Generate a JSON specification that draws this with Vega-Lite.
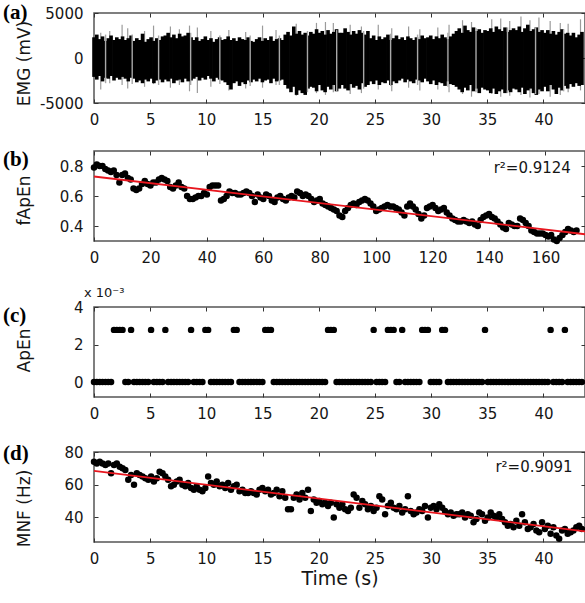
{
  "$schema": "https://vega.github.io/schema/vega-lite/v6.json",
  "padding": {"left": 2, "top": 1, "right": 0, "bottom": 2},
  "background": "white",
  "spacing": 20,
  "config": {
    "font": "DejaVu Sans",
    "view": {"stroke": "#555555", "strokeWidth": 1.5},
    "axis": {"domain": false, "grid": false, "labelFont": "DejaVu Sans", "labelFontSize": 15, "labelColor": "#161616", "tickColor": "#333333", "tickSize": -4, "tickWidth": 1, "titleFont": "DejaVu Sans", "titleFontSize": 17, "titleFontWeight": "normal", "titleColor": "#161616", "labelFlush": false, "labelOverlap": false},
    "axisBottom": {"labelPadding": 13},
    "axisLeft": {"labelPadding": 15}
  },
  "datasets": {
    "main": [
{"i":0,"t":0,"f":0.79,"a":0,"m":74,"hi":2300,"lo":-2100},
{"i":1,"t":0.25,"f":0.81,"a":0,"m":73,"hi":2600,"lo":-2400},
{"i":2,"t":0.51,"f":0.80,"a":0,"m":74,"hi":2100,"lo":-2000},
{"i":3,"t":0.76,"f":0.80,"a":0,"m":73,"hi":2400,"lo":-2600},
{"i":4,"t":1.02,"f":0.78,"a":0,"m":72,"hi":1900,"lo":-2200},
{"i":5,"t":1.27,"f":0.77,"a":0,"m":73,"hi":2200,"lo":-2300},
{"i":6,"t":1.52,"f":0.76,"a":0,"m":67,"hi":2500,"lo":-2000},
{"i":7,"t":1.78,"f":0.77,"a":0.00278,"m":72,"hi":2000,"lo":-2500},
{"i":8,"t":2.03,"f":0.74,"a":0.00278,"m":73,"hi":2300,"lo":-2200},
{"i":9,"t":2.29,"f":0.69,"a":0.00278,"m":71,"hi":2100,"lo":-2400},
{"i":10,"t":2.54,"f":0.74,"a":0.00278,"m":70,"hi":2400,"lo":-2100},
{"i":11,"t":2.79,"f":0.75,"a":0,"m":69,"hi":2000,"lo":-2300},
{"i":12,"t":3.05,"f":0.72,"a":0,"m":63,"hi":2200,"lo":-2600},
{"i":13,"t":3.30,"f":0.71,"a":0.00278,"m":66,"hi":2500,"lo":-2200},
{"i":14,"t":3.56,"f":0.65,"a":0,"m":60,"hi":1900,"lo":-2300},
{"i":15,"t":3.81,"f":0.64,"a":0,"m":67,"hi":2200,"lo":-2700},
{"i":16,"t":4.06,"f":0.65,"a":0,"m":66,"hi":2000,"lo":-2500},
{"i":17,"t":4.32,"f":0.68,"a":0,"m":65,"hi":2700,"lo":-2800},
{"i":18,"t":4.57,"f":0.70,"a":0,"m":64,"hi":1800,"lo":-2400},
{"i":19,"t":4.83,"f":0.68,"a":0,"m":63,"hi":2100,"lo":-2600},
{"i":20,"t":5.08,"f":0.67,"a":0.00278,"m":65,"hi":2300,"lo":-2300},
{"i":21,"t":5.33,"f":0.69,"a":0,"m":62,"hi":1900,"lo":-2800},
{"i":22,"t":5.59,"f":0.69,"a":0,"m":64,"hi":2200,"lo":-2500},
{"i":23,"t":5.84,"f":0.71,"a":0,"m":68,"hi":2000,"lo":-2400},
{"i":24,"t":6.10,"f":0.72,"a":0,"m":67,"hi":2400,"lo":-2700},
{"i":25,"t":6.35,"f":0.71,"a":0.00278,"m":65,"hi":2500,"lo":-2400},
{"i":26,"t":6.60,"f":0.70,"a":0,"m":63,"hi":2800,"lo":-2600},
{"i":27,"t":6.86,"f":0.66,"a":0,"m":59,"hi":2300,"lo":-2300},
{"i":28,"t":7.11,"f":0.65,"a":0,"m":60,"hi":2600,"lo":-2800},
{"i":29,"t":7.37,"f":0.67,"a":0,"m":62,"hi":2200,"lo":-2500},
{"i":30,"t":7.62,"f":0.69,"a":0,"m":63,"hi":2700,"lo":-2400},
{"i":31,"t":7.87,"f":0.66,"a":0,"m":60,"hi":2400,"lo":-2700},
{"i":32,"t":8.13,"f":0.65,"a":0,"m":59,"hi":2500,"lo":-2300},
{"i":33,"t":8.38,"f":0.60,"a":0,"m":61,"hi":2800,"lo":-2600},
{"i":34,"t":8.64,"f":0.58,"a":0.00278,"m":58,"hi":2300,"lo":-2500},
{"i":35,"t":8.89,"f":0.58,"a":0,"m":57,"hi":2000,"lo":-2300},
{"i":36,"t":9.14,"f":0.59,"a":0,"m":59,"hi":2300,"lo":-2100},
{"i":37,"t":9.40,"f":0.60,"a":0,"m":57,"hi":1900,"lo":-2500},
{"i":38,"t":9.65,"f":0.60,"a":0,"m":56,"hi":2100,"lo":-2200},
{"i":39,"t":9.91,"f":0.62,"a":0.00278,"m":58,"hi":2400,"lo":-2400},
{"i":40,"t":10.16,"f":0.61,"a":0.00278,"m":65,"hi":2000,"lo":-2000},
{"i":41,"t":10.41,"f":0.66,"a":0,"m":61,"hi":2200,"lo":-2300},
{"i":42,"t":10.67,"f":0.67,"a":0,"m":60,"hi":1800,"lo":-2600},
{"i":43,"t":10.92,"f":0.67,"a":0,"m":62,"hi":2100,"lo":-2200},
{"i":44,"t":11.18,"f":0.67,"a":0,"m":59,"hi":2300,"lo":-2400},
{"i":45,"t":11.43,"f":0.57,"a":0,"m":60,"hi":2000,"lo":-2500},
{"i":46,"t":11.68,"f":0.58,"a":0,"m":58,"hi":2100,"lo":-2700},
{"i":47,"t":11.94,"f":0.60,"a":0,"m":61,"hi":2400,"lo":-3000},
{"i":48,"t":12.19,"f":0.63,"a":0,"m":57,"hi":2000,"lo":-3500},
{"i":49,"t":12.45,"f":0.62,"a":0.00278,"m":59,"hi":2200,"lo":-2800},
{"i":50,"t":12.70,"f":0.62,"a":0.00278,"m":60,"hi":1900,"lo":-2600},
{"i":51,"t":12.95,"f":0.61,"a":0,"m":56,"hi":2300,"lo":-3100},
{"i":52,"t":13.21,"f":0.61,"a":0,"m":57,"hi":2100,"lo":-2700},
{"i":53,"t":13.46,"f":0.62,"a":0,"m":55,"hi":2000,"lo":-2900},
{"i":54,"t":13.72,"f":0.63,"a":0,"m":55,"hi":2300,"lo":-2500},
{"i":55,"t":13.97,"f":0.62,"a":0,"m":56,"hi":1900,"lo":-2700},
{"i":56,"t":14.22,"f":0.60,"a":0,"m":55,"hi":1800,"lo":-2400},
{"i":57,"t":14.48,"f":0.56,"a":0,"m":54,"hi":2100,"lo":-2600},
{"i":58,"t":14.73,"f":0.61,"a":0,"m":57,"hi":2300,"lo":-2300},
{"i":59,"t":14.99,"f":0.59,"a":0,"m":58,"hi":1900,"lo":-2700},
{"i":60,"t":15.24,"f":0.58,"a":0.00278,"m":56,"hi":2200,"lo":-2500},
{"i":61,"t":15.49,"f":0.61,"a":0.00278,"m":57,"hi":2000,"lo":-2400},
{"i":62,"t":15.75,"f":0.60,"a":0.00278,"m":54,"hi":2400,"lo":-2800},
{"i":63,"t":16.00,"f":0.57,"a":0,"m":55,"hi":1900,"lo":-2300},
{"i":64,"t":16.26,"f":0.56,"a":0,"m":57,"hi":2100,"lo":-2600},
{"i":65,"t":16.51,"f":0.59,"a":0,"m":53,"hi":2200,"lo":-2500},
{"i":66,"t":16.76,"f":0.60,"a":0,"m":56,"hi":2000,"lo":-2400},
{"i":67,"t":17.02,"f":0.58,"a":0,"m":52,"hi":2600,"lo":-3000},
{"i":68,"t":17.27,"f":0.57,"a":0,"m":45,"hi":2900,"lo":-3400},
{"i":69,"t":17.53,"f":0.59,"a":0,"m":45,"hi":2500,"lo":-3800},
{"i":70,"t":17.78,"f":0.60,"a":0,"m":52,"hi":3500,"lo":-3200},
{"i":71,"t":18.03,"f":0.59,"a":0,"m":54,"hi":2700,"lo":-4100},
{"i":72,"t":18.29,"f":0.63,"a":0,"m":51,"hi":3000,"lo":-3600},
{"i":73,"t":18.54,"f":0.62,"a":0,"m":55,"hi":2600,"lo":-3900},
{"i":74,"t":18.80,"f":0.60,"a":0,"m":52,"hi":2800,"lo":-4100},
{"i":75,"t":19.05,"f":0.61,"a":0,"m":57,"hi":2500,"lo":-3400},
{"i":76,"t":19.30,"f":0.60,"a":0,"m":44,"hi":2900,"lo":-3200},
{"i":77,"t":19.56,"f":0.58,"a":0,"m":51,"hi":2700,"lo":-3300},
{"i":78,"t":19.81,"f":0.56,"a":0,"m":49,"hi":3200,"lo":-3700},
{"i":79,"t":20.07,"f":0.57,"a":0,"m":50,"hi":2800,"lo":-3000},
{"i":80,"t":20.32,"f":0.58,"a":0,"m":48,"hi":3000,"lo":-3600},
{"i":81,"t":20.57,"f":0.55,"a":0,"m":49,"hi":2600,"lo":-3800},
{"i":82,"t":20.83,"f":0.54,"a":0.00278,"m":47,"hi":3100,"lo":-3200},
{"i":83,"t":21.08,"f":0.53,"a":0.00278,"m":49,"hi":2700,"lo":-3500},
{"i":84,"t":21.34,"f":0.52,"a":0.00278,"m":40,"hi":2900,"lo":-3000},
{"i":85,"t":21.59,"f":0.51,"a":0,"m":48,"hi":3200,"lo":-3700},
{"i":86,"t":21.84,"f":0.50,"a":0,"m":46,"hi":2800,"lo":-3400},
{"i":87,"t":22.10,"f":0.47,"a":0,"m":48,"hi":2800,"lo":-3000},
{"i":88,"t":22.35,"f":0.46,"a":0,"m":45,"hi":3300,"lo":-3400},
{"i":89,"t":22.61,"f":0.50,"a":0,"m":44,"hi":2900,"lo":-3600},
{"i":90,"t":22.86,"f":0.52,"a":0,"m":46,"hi":2600,"lo":-2900},
{"i":91,"t":23.11,"f":0.54,"a":0,"m":54,"hi":3000,"lo":-3300},
{"i":92,"t":23.37,"f":0.55,"a":0,"m":52,"hi":2700,"lo":-3100},
{"i":93,"t":23.62,"f":0.54,"a":0,"m":46,"hi":3100,"lo":-3500},
{"i":94,"t":23.88,"f":0.56,"a":0,"m":50,"hi":2800,"lo":-2800},
{"i":95,"t":24.13,"f":0.57,"a":0,"m":48,"hi":2600,"lo":-3200},
{"i":96,"t":24.38,"f":0.58,"a":0,"m":45,"hi":3000,"lo":-3000},
{"i":97,"t":24.64,"f":0.57,"a":0,"m":47,"hi":2200,"lo":-2600},
{"i":98,"t":24.89,"f":0.55,"a":0.00278,"m":44,"hi":2500,"lo":-2900},
{"i":99,"t":25.15,"f":0.53,"a":0,"m":46,"hi":2000,"lo":-2500},
{"i":100,"t":25.40,"f":0.50,"a":0,"m":53,"hi":2400,"lo":-3000},
{"i":101,"t":25.65,"f":0.51,"a":0,"m":51,"hi":2100,"lo":-2700},
{"i":102,"t":25.91,"f":0.52,"a":0,"m":42,"hi":2300,"lo":-2800},
{"i":103,"t":26.16,"f":0.53,"a":0.00278,"m":47,"hi":2600,"lo":-2500},
{"i":104,"t":26.42,"f":0.54,"a":0.00278,"m":49,"hi":2000,"lo":-3000},
{"i":105,"t":26.67,"f":0.53,"a":0.00278,"m":46,"hi":2200,"lo":-2600},
{"i":106,"t":26.92,"f":0.53,"a":0,"m":45,"hi":2500,"lo":-2800},
{"i":107,"t":27.18,"f":0.52,"a":0,"m":47,"hi":2100,"lo":-2500},
{"i":108,"t":27.43,"f":0.51,"a":0.00278,"m":43,"hi":2300,"lo":-2300},
{"i":109,"t":27.69,"f":0.49,"a":0,"m":45,"hi":2000,"lo":-2700},
{"i":110,"t":27.94,"f":0.47,"a":0,"m":53,"hi":2400,"lo":-2400},
{"i":111,"t":28.19,"f":0.53,"a":0,"m":44,"hi":2200,"lo":-2600},
{"i":112,"t":28.45,"f":0.55,"a":0,"m":42,"hi":2000,"lo":-2800},
{"i":113,"t":28.70,"f":0.53,"a":0,"m":43,"hi":2300,"lo":-2400},
{"i":114,"t":28.96,"f":0.51,"a":0,"m":45,"hi":2100,"lo":-2500},
{"i":115,"t":29.21,"f":0.48,"a":0.00278,"m":44,"hi":2500,"lo":-2700},
{"i":116,"t":29.46,"f":0.45,"a":0.00278,"m":47,"hi":2200,"lo":-2300},
{"i":117,"t":29.72,"f":0.47,"a":0.00278,"m":40,"hi":2300,"lo":-2600},
{"i":118,"t":29.97,"f":0.52,"a":0,"m":46,"hi":2500,"lo":-2900},
{"i":119,"t":30.23,"f":0.53,"a":0,"m":47,"hi":2100,"lo":-2500},
{"i":120,"t":30.48,"f":0.54,"a":0,"m":45,"hi":2400,"lo":-3000},
{"i":121,"t":30.73,"f":0.52,"a":0,"m":48,"hi":2200,"lo":-2700},
{"i":122,"t":30.99,"f":0.50,"a":0.00278,"m":46,"hi":2600,"lo":-2800},
{"i":123,"t":31.24,"f":0.51,"a":0.00278,"m":44,"hi":2300,"lo":-3100},
{"i":124,"t":31.50,"f":0.52,"a":0,"m":42,"hi":2100,"lo":-2600},
{"i":125,"t":31.75,"f":0.49,"a":0,"m":43,"hi":2400,"lo":-2900},
{"i":126,"t":32.00,"f":0.47,"a":0,"m":41,"hi":2700,"lo":-3000},
{"i":127,"t":32.26,"f":0.45,"a":0,"m":42,"hi":3000,"lo":-3200},
{"i":128,"t":32.51,"f":0.44,"a":0,"m":42,"hi":3300,"lo":-3500},
{"i":129,"t":32.77,"f":0.43,"a":0,"m":43,"hi":2800,"lo":-3800},
{"i":130,"t":33.02,"f":0.43,"a":0,"m":40,"hi":3600,"lo":-3300},
{"i":131,"t":33.27,"f":0.44,"a":0,"m":42,"hi":3100,"lo":-3600},
{"i":132,"t":33.53,"f":0.43,"a":0,"m":41,"hi":2900,"lo":-3000},
{"i":133,"t":33.78,"f":0.42,"a":0,"m":37,"hi":3400,"lo":-3700},
{"i":134,"t":34.04,"f":0.43,"a":0,"m":39,"hi":3000,"lo":-3400},
{"i":135,"t":34.29,"f":0.41,"a":0,"m":43,"hi":3200,"lo":-3900},
{"i":136,"t":34.54,"f":0.40,"a":0,"m":42,"hi":2800,"lo":-3300},
{"i":137,"t":34.80,"f":0.44,"a":0.00278,"m":38,"hi":3100,"lo":-3500},
{"i":138,"t":35.05,"f":0.46,"a":0,"m":40,"hi":3000,"lo":-3600},
{"i":139,"t":35.31,"f":0.47,"a":0,"m":43,"hi":3300,"lo":-3900},
{"i":140,"t":35.56,"f":0.48,"a":0,"m":41,"hi":2900,"lo":-3400},
{"i":141,"t":35.81,"f":0.46,"a":0,"m":40,"hi":3500,"lo":-4000},
{"i":142,"t":36.07,"f":0.45,"a":0,"m":42,"hi":3200,"lo":-3700},
{"i":143,"t":36.32,"f":0.43,"a":0,"m":39,"hi":3000,"lo":-3500},
{"i":144,"t":36.58,"f":0.41,"a":0,"m":37,"hi":3400,"lo":-3900},
{"i":145,"t":36.83,"f":0.39,"a":0,"m":35,"hi":2900,"lo":-3600},
{"i":146,"t":37.08,"f":0.38,"a":0,"m":36,"hi":3100,"lo":-3800},
{"i":147,"t":37.34,"f":0.42,"a":0,"m":34,"hi":3300,"lo":-3400},
{"i":148,"t":37.59,"f":0.41,"a":0,"m":38,"hi":3100,"lo":-3500},
{"i":149,"t":37.85,"f":0.40,"a":0,"m":35,"hi":3500,"lo":-3800},
{"i":150,"t":38.10,"f":0.40,"a":0,"m":42,"hi":2900,"lo":-3300},
{"i":151,"t":38.35,"f":0.45,"a":0,"m":37,"hi":3300,"lo":-4000},
{"i":152,"t":38.61,"f":0.44,"a":0,"m":33,"hi":3700,"lo":-3600},
{"i":153,"t":38.86,"f":0.42,"a":0,"m":34,"hi":3000,"lo":-3400},
{"i":154,"t":39.12,"f":0.40,"a":0,"m":36,"hi":3200,"lo":-3900},
{"i":155,"t":39.37,"f":0.37,"a":0,"m":32,"hi":3400,"lo":-4100},
{"i":156,"t":39.62,"f":0.36,"a":0,"m":31,"hi":2900,"lo":-3500},
{"i":157,"t":39.88,"f":0.35,"a":0,"m":37,"hi":3100,"lo":-3700},
{"i":158,"t":40.13,"f":0.35,"a":0,"m":33,"hi":2800,"lo":-3200},
{"i":159,"t":40.39,"f":0.35,"a":0,"m":35,"hi":3100,"lo":-3700},
{"i":160,"t":40.64,"f":0.34,"a":0.00278,"m":30,"hi":2700,"lo":-3000},
{"i":161,"t":40.89,"f":0.33,"a":0,"m":34,"hi":3000,"lo":-3500},
{"i":162,"t":41.15,"f":0.34,"a":0,"m":29,"hi":2600,"lo":-4000},
{"i":163,"t":41.40,"f":0.31,"a":0,"m":27,"hi":2900,"lo":-3300},
{"i":164,"t":41.66,"f":0.30,"a":0,"m":32,"hi":3200,"lo":-3600},
{"i":165,"t":41.91,"f":0.32,"a":0.00278,"m":33,"hi":2700,"lo":-3100},
{"i":166,"t":42.16,"f":0.34,"a":0,"m":30,"hi":2800,"lo":-3400},
{"i":167,"t":42.42,"f":0.36,"a":0,"m":31,"hi":2500,"lo":-2900},
{"i":168,"t":42.67,"f":0.38,"a":0,"m":32,"hi":2800,"lo":-3200},
{"i":169,"t":42.93,"f":0.37,"a":0,"m":34,"hi":2300,"lo":-2800},
{"i":170,"t":43.18,"f":0.36,"a":0,"m":35,"hi":2600,"lo":-3100},
{"i":171,"t":43.43,"f":0.37,"a":0,"m":33,"hi":2900,"lo":-3000}
    ],
    "spikes": [
{"t":0.6,"top":2800,"bot":-3500},{"t":1.4,"top":3000,"bot":-2800},{"t":2.5,"top":3700,"bot":-3000},{"t":3.0,"top":3300,"bot":-3400},
{"t":4.5,"top":3000,"bot":-3200},{"t":5.3,"top":3600,"bot":-2900},{"t":6.8,"top":3500,"bot":-3300},{"t":7.6,"top":3200,"bot":-3000},
{"t":8.5,"top":3600,"bot":-3700},{"t":9.2,"top":3400,"bot":-3900},{"t":10.4,"top":3000,"bot":-3200},{"t":12.0,"top":3100,"bot":-3600},
{"t":13.5,"top":2900,"bot":-3400},{"t":15.0,"top":3600,"bot":-3300},{"t":16.2,"top":3100,"bot":-3000},{"t":18.0,"top":3800,"bot":-4200},
{"t":19.8,"top":3900,"bot":-3900},{"t":20.6,"top":4000,"bot":-4100},{"t":21.3,"top":3900,"bot":-3800},{"t":22.8,"top":3700,"bot":-4000},
{"t":23.8,"top":3500,"bot":-3900},{"t":25.3,"top":3700,"bot":-3500},{"t":26.5,"top":3300,"bot":-3700},{"t":28.0,"top":3500,"bot":-3300},
{"t":29.0,"top":3200,"bot":-3600},{"t":30.6,"top":3400,"bot":-3500},{"t":31.6,"top":3700,"bot":-3800},{"t":32.8,"top":4200,"bot":-4000},
{"t":33.6,"top":4000,"bot":-4300},{"t":35.4,"top":4300,"bot":-4000},{"t":36.2,"top":4400,"bot":-4300},{"t":37.0,"top":4100,"bot":-4200},
{"t":38.0,"top":4600,"bot":-4100},{"t":38.8,"top":4200,"bot":-4400},{"t":39.6,"top":4500,"bot":-4000},{"t":40.6,"top":4100,"bot":-4300},
{"t":41.5,"top":3900,"bot":-4100},{"t":42.2,"top":3800,"bot":-3800},{"t":43.3,"top":4300,"bot":-3600}
    ],
    "gaps": [
{"t":1.03,"top":2600,"bot":-2800},{"t":3.4,"top":2600,"bot":-2900},{"t":5.75,"top":2500,"bot":-3000},{"t":8.6,"top":2800,"bot":-3000},
{"t":11.2,"top":2500,"bot":-2900},{"t":13.9,"top":2500,"bot":-3100},{"t":16.5,"top":2500,"bot":-3000},{"t":19.0,"top":3000,"bot":-3800},
{"t":21.6,"top":3100,"bot":-3700},{"t":24.0,"top":3000,"bot":-3400},{"t":26.4,"top":2700,"bot":-3100},{"t":28.8,"top":2600,"bot":-3000},
{"t":31.5,"top":2800,"bot":-3200},{"t":34.0,"top":3300,"bot":-3800},{"t":36.8,"top":3400,"bot":-3900},{"t":39.3,"top":3400,"bot":-4000},
{"t":41.8,"top":3200,"bot":-3700}
    ],
    "fitb": [{"i":0,"f":0.73},{"i":174,"f":0.345}],
    "fitd": [{"t":0,"m":68.5},{"t":43.7,"m":31.5}]
  },
  "vconcat": [
    {
      "width": 491, "height": 90,
      "layer": [
        {"data": {"name": "spikes"}, "mark": {"type": "rule", "color": "#9b9b9b", "strokeWidth": 1.2},
         "encoding": {
           "x": {"field": "t", "type": "quantitative", "scale": {"domain": [0, 43.7], "nice": false, "zero": false}, "axis": {"values": [0,5,10,15,20,25,30,35,40], "title": null}},
           "y": {"field": "top", "type": "quantitative", "scale": {"domain": [-5000, 5000], "nice": false}, "axis": {"values": [-5000, 0, 5000], "format": "d", "title": "EMG (mV)", "titleX": -61, "titleY": 50, "labelExpr": "replace(datum.label, '\u2212', '-')"}},
           "y2": {"field": "bot"}}},
        {"data": {"name": "main"}, "mark": {"type": "rule", "color": "#000000", "strokeWidth": 3.6},
         "encoding": {
           "x": {"field": "t", "type": "quantitative", "scale": {"domain": [0, 43.7], "nice": false, "zero": false}, "axis": null},
           "y": {"field": "hi", "type": "quantitative", "scale": {"domain": [-5000, 5000], "nice": false}, "axis": null},
           "y2": {"field": "lo"}}},
        {"data": {"name": "gaps"}, "mark": {"type": "rule", "color": "#a8a8a8", "strokeWidth": 1.4},
         "encoding": {
           "x": {"field": "t", "type": "quantitative", "scale": {"domain": [0, 43.7], "nice": false, "zero": false}, "axis": {"orient": "top", "labels": false, "title": null, "values": [0,5,10,15,20,25,30,35,40]}},
           "y": {"field": "top", "type": "quantitative", "scale": {"domain": [-5000, 5000], "nice": false}, "axis": {"orient": "right", "labels": false, "title": null, "values": [-5000, 0, 5000]}},
           "y2": {"field": "bot"}}},
        {"data": {"values": [{}]}, "mark": {"type": "text", "text": "(a)", "font": "Liberation Serif", "fontWeight": "bold", "fontSize": 21, "align": "left", "baseline": "middle", "clip": false, "color": "#000000"},
         "encoding": {
           "x": {"datum": -8.1, "type": "quantitative", "scale": {"domain": [0, 43.7], "nice": false, "zero": false}, "axis": null},
           "y": {"datum": 5000, "type": "quantitative", "scale": {"domain": [-5000, 5000], "nice": false}, "axis": null}}}
      ],
      "resolve": {"axis": {"x": "independent", "y": "independent"}}
    },
    {
      "width": 491, "height": 90,
      "layer": [
        {"data": {"name": "main"}, "mark": {"type": "circle", "color": "#000000", "opacity": 1, "size": 42},
         "encoding": {
           "x": {"field": "i", "type": "quantitative", "scale": {"domain": [0, 174], "nice": false, "zero": false}, "axis": {"values": [0,20,40,60,80,100,120,140,160], "title": null}},
           "y": {"field": "f", "type": "quantitative", "scale": {"domain": [0.3, 0.9], "nice": false, "zero": false}, "axis": {"values": [0.4, 0.6, 0.8], "format": ".1f", "title": "fApEn", "titleX": -61, "titleY": 49}}}},
        {"data": {"name": "fitb"}, "mark": {"type": "line", "color": "#e8161e", "strokeWidth": 1.8},
         "encoding": {
           "x": {"field": "i", "type": "quantitative", "scale": {"domain": [0, 174], "nice": false, "zero": false}, "axis": {"orient": "top", "labels": false, "title": null, "values": [0,20,40,60,80,100,120,140,160]}},
           "y": {"field": "f", "type": "quantitative", "scale": {"domain": [0.3, 0.9], "nice": false, "zero": false}, "axis": {"orient": "right", "labels": false, "title": null, "values": [0.4, 0.6, 0.8]}}}},
        {"data": {"values": [{}]}, "mark": {"type": "text", "text": "r\u00b2=0.9124", "font": "DejaVu Sans", "fontSize": 15, "align": "right", "baseline": "middle", "color": "#161616"},
         "encoding": {
           "x": {"datum": 169, "type": "quantitative", "scale": {"domain": [0, 174], "nice": false, "zero": false}, "axis": null},
           "y": {"datum": 0.79, "type": "quantitative", "scale": {"domain": [0.3, 0.9], "nice": false, "zero": false}, "axis": null}}},
        {"data": {"values": [{}]}, "mark": {"type": "text", "text": "(b)", "font": "Liberation Serif", "fontWeight": "bold", "fontSize": 21, "align": "left", "baseline": "middle", "clip": false, "color": "#000000"},
         "encoding": {
           "x": {"datum": -32.25, "type": "quantitative", "scale": {"domain": [0, 174], "nice": false, "zero": false}, "axis": null},
           "y": {"datum": 0.84, "type": "quantitative", "scale": {"domain": [0.3, 0.9], "nice": false, "zero": false}, "axis": null}}}
      ],
      "resolve": {"axis": {"x": "independent", "y": "independent"}}
    },
    {
      "width": 491, "height": 90,
      "title": {"text": "x 10\u207b\u00b3", "anchor": "start", "frame": "group", "dx": -10, "offset": 0, "fontSize": 13, "font": "DejaVu Sans", "fontWeight": "normal", "color": "#161616"},
      "layer": [
        {"data": {"name": "main"}, "mark": {"type": "circle", "color": "#000000", "opacity": 1, "size": 42},
         "encoding": {
           "x": {"field": "t", "type": "quantitative", "scale": {"domain": [0, 43.7], "nice": false, "zero": false}, "axis": {"values": [0,5,10,15,20,25,30,35,40], "title": null}},
           "y": {"field": "a", "type": "quantitative", "scale": {"domain": [-0.0008, 0.004], "nice": false, "zero": false}, "axis": {"values": [0, 0.002, 0.004], "labelExpr": "format(datum.value * 1000, '.0f')", "title": "ApEn", "titleX": -61, "titleY": 43}}}},
        {"data": {"name": "main"}, "mark": {"type": "circle", "color": "#000000", "opacity": 0, "size": 42},
         "encoding": {
           "x": {"field": "t", "type": "quantitative", "scale": {"domain": [0, 43.7], "nice": false, "zero": false}, "axis": {"orient": "top", "labels": false, "title": null, "values": [0,5,10,15,20,25,30,35,40]}},
           "y": {"field": "a", "type": "quantitative", "scale": {"domain": [-0.0008, 0.004], "nice": false, "zero": false}, "axis": {"orient": "right", "labels": false, "title": null, "values": [0, 0.002, 0.004]}}}},
        {"data": {"values": [{}]}, "mark": {"type": "text", "text": "(c)", "font": "Liberation Serif", "fontWeight": "bold", "fontSize": 21, "align": "left", "baseline": "middle", "clip": false, "color": "#000000"},
         "encoding": {
           "x": {"datum": -8.1, "type": "quantitative", "scale": {"domain": [0, 43.7], "nice": false, "zero": false}, "axis": null},
           "y": {"datum": 0.00352, "type": "quantitative", "scale": {"domain": [-0.0008, 0.004], "nice": false, "zero": false}, "axis": null}}}
      ],
      "resolve": {"axis": {"x": "independent", "y": "independent"}}
    },
    {
      "width": 491, "height": 90,
      "layer": [
        {"data": {"name": "main"}, "mark": {"type": "circle", "color": "#000000", "opacity": 1, "size": 42},
         "encoding": {
           "x": {"field": "t", "type": "quantitative", "scale": {"domain": [0, 43.7], "nice": false, "zero": false}, "axis": {"values": [0,5,10,15,20,25,30,35,40], "title": "Time (s)", "titleFontSize": 19, "titlePadding": 3}},
           "y": {"field": "m", "type": "quantitative", "scale": {"domain": [25, 80], "nice": false, "zero": false}, "axis": {"values": [40, 60, 80], "title": "MNF (Hz)", "titleX": -61, "titleY": 56}}}},
        {"data": {"name": "fitd"}, "mark": {"type": "line", "color": "#e8161e", "strokeWidth": 1.8},
         "encoding": {
           "x": {"field": "t", "type": "quantitative", "scale": {"domain": [0, 43.7], "nice": false, "zero": false}, "axis": {"orient": "top", "labels": false, "title": null, "values": [0,5,10,15,20,25,30,35,40]}},
           "y": {"field": "m", "type": "quantitative", "scale": {"domain": [25, 80], "nice": false, "zero": false}, "axis": {"orient": "right", "labels": false, "title": null, "values": [40, 60, 80]}}}},
        {"data": {"values": [{}]}, "mark": {"type": "text", "text": "r\u00b2=0.9091", "font": "DejaVu Sans", "fontSize": 15, "align": "right", "baseline": "middle", "color": "#161616"},
         "encoding": {
           "x": {"datum": 42.6, "type": "quantitative", "scale": {"domain": [0, 43.7], "nice": false, "zero": false}, "axis": null},
           "y": {"datum": 71, "type": "quantitative", "scale": {"domain": [25, 80], "nice": false, "zero": false}, "axis": null}}},
        {"data": {"values": [{}]}, "mark": {"type": "text", "text": "(d)", "font": "Liberation Serif", "fontWeight": "bold", "fontSize": 21, "align": "left", "baseline": "middle", "clip": false, "color": "#000000"},
         "encoding": {
           "x": {"datum": -8.1, "type": "quantitative", "scale": {"domain": [0, 43.7], "nice": false, "zero": false}, "axis": null},
           "y": {"datum": 78.5, "type": "quantitative", "scale": {"domain": [25, 80], "nice": false, "zero": false}, "axis": null}}}
      ],
      "resolve": {"axis": {"x": "independent", "y": "independent"}}
    }
  ]
}
